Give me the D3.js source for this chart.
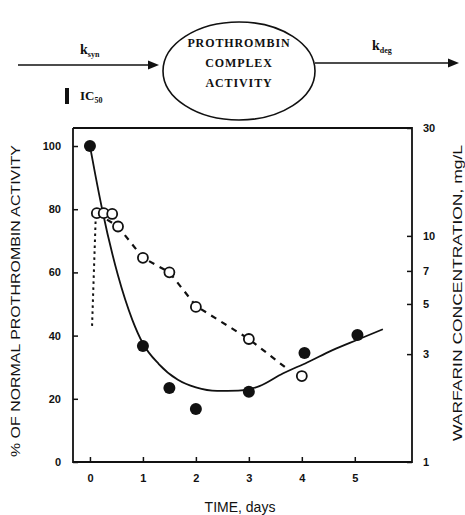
<!DOCTYPE html>
<html>
<head>
<meta charset="utf-8">
<script src="https://cdn.jsdelivr.net/npm/d3@7"></script>
<style>
  body { margin: 0; background: #fff; }
  svg { display: block; }
</style>
</head>
<body>
<div id="chart"></div>
<script>
// tick labels
var timeTicks = [0, 1, 2, 3, 4, 5];
var pctTicks = [0, 20, 40, 60, 80, 100];
var concTicks = [1, 3, 5, 7, 10, 30];

// observed prothrombin activity (filled circles, left axis)
var activityTime = [0, 1, 1.5, 2, 3, 4.05, 5.05];
var activityPct = [100, 36.7, 23.4, 16.8, 22.2, 34.5, 40.2];

// observed warfarin concentration (open circles, right axis)
var concTime = [0.13, 0.26, 0.42, 0.53, 1, 1.5, 2, 3, 4];
var concValue = [12.6, 12.6, 12.5, 11.0, 8.0, 6.9, 4.85, 3.5, 2.4];

// fitted activity (solid line)
var fitTime = [0, 0.1, 0.23, 0.53, 0.8, 1, 1.3, 1.66, 2, 2.4, 2.8, 3.2, 3.64, 4.1, 4.58, 5.05, 5.53];
var fitPct = [100, 91, 80, 59, 45, 37.5, 31, 26, 23.6, 22.5, 22.6, 24, 28, 31.5, 35.4, 38.7, 42];

// fitted concentration: absorption (dotted) and elimination (dashed)
var absTime = [0.04, 0.11];
var absConc = [4.0, 12.3];
var elimTime = [0.13, 0.53, 1, 1.5, 2, 3, 3.68];
var elimConc = [12.6, 11.0, 8.0, 6.9, 4.9, 3.5, 2.63];

var W = 465, H = 515;
var svg = d3.select("#chart").append("svg")
    .attr("width", W)
    .attr("height", H);

// ---- top scheme ----
var serif = "'Liberation Serif', 'DejaVu Serif', serif";
var scheme = svg.append("g").attr("font-family", serif).attr("font-weight", "bold").attr("fill", "#111");

function arrow(x1, x2, y) {
  scheme.append("line")
    .attr("x1", x1).attr("x2", x2 - 8).attr("y1", y).attr("y2", y)
    .attr("stroke", "#111").attr("stroke-width", 1.6);
  scheme.append("path")
    .attr("d", "M" + x2 + "," + y + " L" + (x2 - 11) + "," + (y - 4.5) + " L" + (x2 - 11) + "," + (y + 4.5) + " Z")
    .attr("fill", "#111");
}
arrow(18, 159, 65);
arrow(315, 459, 63);

var ksyn = scheme.append("text").attr("x", 80).attr("y", 54).attr("font-size", 14);
ksyn.append("tspan").text("k");
ksyn.append("tspan").attr("font-size", 8).attr("dy", 3).text("syn");

var kdeg = scheme.append("text").attr("x", 372).attr("y", 50).attr("font-size", 14);
kdeg.append("tspan").text("k");
kdeg.append("tspan").attr("font-size", 8).attr("dy", 3).text("deg");

scheme.append("rect").attr("x", 65).attr("y", 88).attr("width", 4).attr("height", 16).attr("fill", "#111");
var ic = scheme.append("text").attr("x", 80).attr("y", 100).attr("font-size", 13);
ic.append("tspan").text("IC");
ic.append("tspan").attr("font-size", 8).attr("dy", 3).text("50");

scheme.append("ellipse")
  .attr("cx", 239).attr("cy", 71).attr("rx", 76).attr("ry", 49)
  .attr("fill", "none").attr("stroke", "#111").attr("stroke-width", 1.6);
["PROTHROMBIN", "COMPLEX", "ACTIVITY"].forEach(function(t, i) {
  scheme.append("text")
    .attr("x", 239).attr("y", 47 + i * 20)
    .attr("text-anchor", "middle")
    .attr("font-size", 12)
    .attr("letter-spacing", 0.9)
    .text(t);
});

// ---- plot ----
var x = d3.scaleLinear().domain([-0.32, 6.08]).range([73, 412]);
var yL = d3.scaleLinear().domain([0, 105.7]).range([462, 128]);
var yR = d3.scaleLog().domain([1, 30]).range([462, 128]);

var sans = "'Liberation Sans', Arial, sans-serif";
var plot = svg.append("g").attr("font-family", sans);

// frame: left, bottom, right, top
plot.append("path")
  .attr("d", "M73,128 L73,462 L412,462 L412,128 L73,128")
  .attr("fill", "none").attr("stroke", "#111").attr("stroke-width", 1.8);

var xAxis = d3.axisBottom(x).tickValues(timeTicks).tickSize(-5).tickPadding(12).tickFormat(d3.format("d"));
var gx = plot.append("g").attr("transform", "translate(0,462)").call(xAxis);

var yAxisL = d3.axisLeft(yL).tickValues(pctTicks).tickSize(-5).tickPadding(12);
var gyl = plot.append("g").attr("transform", "translate(73,0)").call(yAxisL);

var yAxisR = d3.axisRight(yR).tickValues(concTicks).tickSize(-5).tickPadding(11).tickFormat(d3.format("d"));
var gyr = plot.append("g").attr("transform", "translate(412,0)").call(yAxisR);

[gx, gyl, gyr].forEach(function(g) {
  g.select(".domain").remove();
  g.selectAll("line").attr("stroke", "#111").attr("stroke-width", 1.5);
  g.selectAll("text")
    .attr("font-family", sans)
    .attr("font-weight", "bold")
    .attr("font-size", 11)
    .attr("fill", "#111");
});

// axis titles
plot.append("text")
  .attr("transform", "translate(20,301) rotate(-90)")
  .attr("text-anchor", "middle")
  .attr("font-size", 13)
  .attr("textLength", 312)
  .attr("lengthAdjust", "spacingAndGlyphs")
  .attr("fill", "#111")
  .text("% OF NORMAL PROTHROMBIN ACTIVITY");

plot.append("text")
  .attr("transform", "translate(462,293) rotate(-90)")
  .attr("text-anchor", "middle")
  .attr("font-size", 13)
  .attr("textLength", 296)
  .attr("lengthAdjust", "spacingAndGlyphs")
  .attr("fill", "#111")
  .text("WARFARIN CONCENTRATION, mg/L");

plot.append("text")
  .attr("x", 240).attr("y", 512)
  .attr("text-anchor", "middle")
  .attr("font-size", 14)
  .attr("fill", "#111")
  .text("TIME, days");

// fitted lines
var fitLine = d3.line()
  .x(function(d) { return x(d[0]); })
  .y(function(d) { return yL(d[1]); })
  .curve(d3.curveMonotoneX);
plot.append("path")
  .datum(d3.zip(fitTime, fitPct))
  .attr("d", fitLine)
  .attr("fill", "none").attr("stroke", "#111").attr("stroke-width", 1.8);

var concLine = d3.line()
  .x(function(d) { return x(d[0]); })
  .y(function(d) { return yR(d[1]); });
plot.append("path")
  .datum(d3.zip(absTime, absConc))
  .attr("d", concLine)
  .attr("fill", "none").attr("stroke", "#111").attr("stroke-width", 2)
  .attr("stroke-dasharray", "2.5,3.5");
plot.append("path")
  .datum(d3.zip(elimTime, elimConc))
  .attr("d", concLine)
  .attr("fill", "none").attr("stroke", "#111").attr("stroke-width", 2.2)
  .attr("stroke-dasharray", "6,6");

// observed points
plot.selectAll(".conc")
  .data(d3.zip(concTime, concValue))
  .enter().append("circle")
  .attr("class", "conc")
  .attr("cx", function(d) { return x(d[0]); })
  .attr("cy", function(d) { return yR(d[1]); })
  .attr("r", 5)
  .attr("fill", "#fff")
  .attr("stroke", "#111")
  .attr("stroke-width", 1.8);

plot.selectAll(".act")
  .data(d3.zip(activityTime, activityPct))
  .enter().append("circle")
  .attr("class", "act")
  .attr("cx", function(d) { return x(d[0]); })
  .attr("cy", function(d) { return yL(d[1]); })
  .attr("r", 6)
  .attr("fill", "#111");
</script>
</body>
</html>
